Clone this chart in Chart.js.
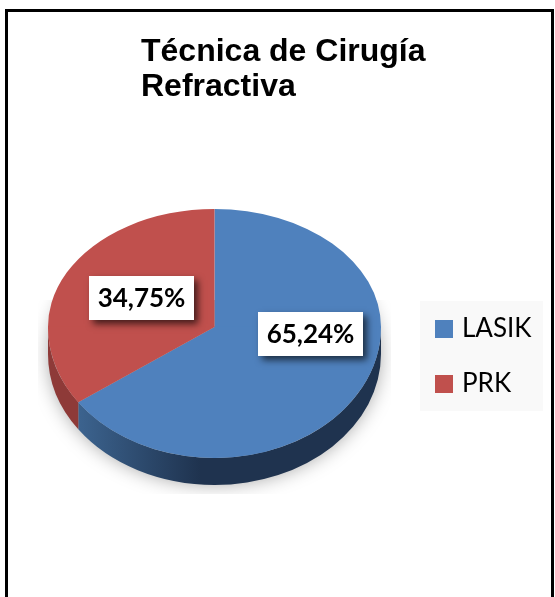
<!DOCTYPE html>
<html><head><meta charset="utf-8">
<style>html,body{margin:0;padding:0;background:#fff;overflow:hidden}canvas{display:block}</style>
<script src="https://cdn.jsdelivr.net/npm/chart.js@4"></script>
</head><body><canvas id="c" width="555" height="597"></canvas>
<script>
const categories = ['LASIK', 'PRK'];
const percentages = [65.24, 34.75];
const valueLabels = ['65,24%', '34,75%'];
const titleLines = ['Técnica de Cirugía', 'Refractiva'];
const sliceColors = ['#4f81bd', '#c0504d'];

const SCALE_UP = 118 / 166.5, SCALE_DOWN = 131 / 166.5, DEPTH = 27;
const labelCentres = [[310.5, 334], [141.5, 298]];
const LEGEND_PAD = 29;

function faceTransform(c, y0, k) {
  c.translate(0, y0);
  c.scale(1, k);
  c.translate(0, -y0);
}

const pie3d = {
  id: 'pie3d',
  beforeDraw(chart) {
    const c = chart.ctx;
    c.save();
    c.fillStyle = '#fff';
    c.fillRect(0, 0, chart.width, chart.height);
    c.strokeStyle = '#000';
    c.lineWidth = 3;
    c.beginPath();
    c.moveTo(6.5, 600); c.lineTo(6.5, 10.5); c.lineTo(552.5, 10.5); c.lineTo(552.5, 600);
    c.stroke();
    c.fillStyle = '#f9f9f9';
    c.fillRect(420, 301, 123, 110);
    c.restore();
  },
  afterLayout(chart) {
    const t = chart.titleBlock;
    t.left = 141; t.right = 555;
    const l = chart.legend;
    l.left = 439 - LEGEND_PAD; l.right = 555; l.top = 316 - LEGEND_PAD; l.bottom = 597;
    l.width = l.right - l.left; l.height = l.bottom - l.top;
  },
  beforeDatasetsDraw(chart) {
    const c = chart.ctx, arcs = chart.getDatasetMeta(0).data, a0 = arcs[0];
    const cx = a0.x, cy = a0.y, rx = a0.outerRadius, ry = rx * SCALE_DOWN;
    // soft ground shadow
    c.save();
    c.beginPath(); c.rect(38, 300, 353, 194); c.clip();
    c.shadowColor = 'rgba(0,0,0,0.4)';
    c.shadowBlur = 20;
    c.fillStyle = '#bbb';
    c.beginPath(); c.ellipse(cx, cy + DEPTH, rx - 2, ry - 2, 0, 0, Math.PI * 2); c.fill();
    c.restore();
    // side wall, front part of each slice only
    arcs.forEach((a, i) => {
      const s = Math.max(a.startAngle, 0), e = Math.min(a.endAngle, Math.PI);
      if (e <= s) return;
      c.save();
      c.beginPath();
      c.ellipse(cx, cy + DEPTH, rx, ry, 0, s, e);
      c.ellipse(cx, cy, rx, ry, 0, e, s, true);
      c.closePath();
      if (i === 0) {
        const g = c.createLinearGradient(74, 0, 200, 0);
        g.addColorStop(0, '#3d6591');
        g.addColorStop(1, '#1f334f');
        c.fillStyle = g;
      } else {
        c.fillStyle = '#8e3a38';
      }
      c.fill();
      c.restore();
    });
  },
  beforeDatasetDraw(chart) {
    // back half of the top face: the library draws it through this transform
    const c = chart.ctx, a0 = chart.getDatasetMeta(0).data[0];
    c.save();
    c.beginPath(); c.rect(0, 0, chart.width, a0.y); c.clip();
    faceTransform(c, a0.y, SCALE_UP);
  },
  afterDatasetDraw(chart) {
    // front half of the top face, slightly taller for the perspective
    const c = chart.ctx, arcs = chart.getDatasetMeta(0).data, a0 = arcs[0];
    c.restore();
    c.save();
    c.beginPath(); c.rect(0, a0.y - 0.5, chart.width, chart.height); c.clip();
    faceTransform(c, a0.y, SCALE_DOWN);
    arcs.forEach(a => a.draw(c));
    c.restore();
  },
  afterDatasetsDraw(chart) {
    const c = chart.ctx;
    valueLabels.forEach((txt, i) => {
      const [x, y] = labelCentres[i];
      c.save();
      c.shadowColor = 'rgba(0,0,0,0.65)';
      c.shadowBlur = 7;
      c.shadowOffsetX = 4;
      c.shadowOffsetY = 4;
      c.fillStyle = '#fff';
      c.fillRect(x - 52.5, y - 22, 105, 44);
      c.restore();
      c.save();
      c.fillStyle = '#000';
      c.font = 'bold 26px Lato';
      c.textAlign = 'center';
      c.textBaseline = 'middle';
      c.fillText(txt, x, y + 1);
      c.restore();
    });
  }
};

new Chart(document.getElementById('c'), {
  type: 'pie',
  data: {
    labels: categories,
    datasets: [{ data: percentages, backgroundColor: sliceColors, borderWidth: 0 }]
  },
  options: {
    responsive: false,
    animation: false,
    layout: { padding: { left: 48, right: 174, bottom: 103.5, top: 0 } },
    plugins: {
      tooltip: { enabled: false },
      title: {
        display: true,
        text: titleLines,
        align: 'start',
        color: '#000',
        font: { family: 'Liberation Sans', size: 32, weight: 'bold', lineHeight: 35 / 32 },
        padding: { top: 35, bottom: 55.5 }
      },
      legend: {
        position: 'chartArea',
        align: 'start',
        labels: {
          color: '#000',
          font: { family: 'Lato', size: 26 },
          boxWidth: 10,
          boxHeight: 10,
          padding: LEGEND_PAD,
          generateLabels(chart) {
            return categories.map((name, i) => ({
              text: name,
              fillStyle: sliceColors[i],
              strokeStyle: sliceColors[i],
              lineWidth: 8,
              fontColor: '#000',
              index: i
            }));
          }
        }
      }
    }
  },
  plugins: [pie3d]
});
</script></body></html>
